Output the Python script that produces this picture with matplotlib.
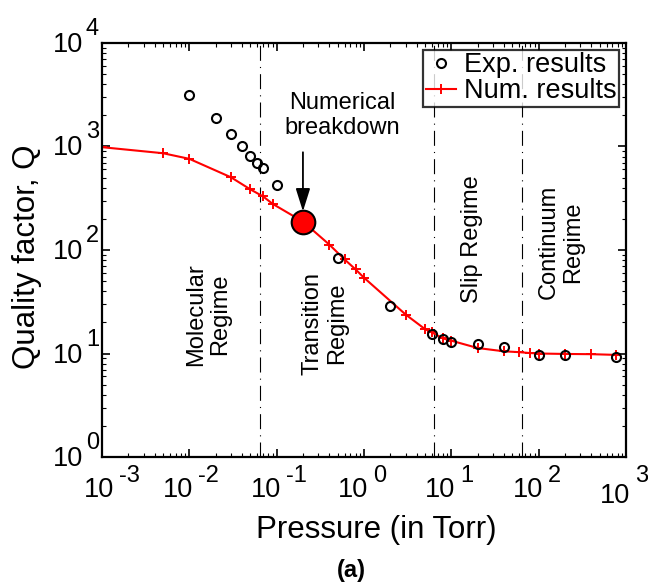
import matplotlib
matplotlib.use("Agg")
from matplotlib import pyplot as plt
from matplotlib.ticker import LogLocator, NullFormatter
from matplotlib.transforms import blended_transform_factory, offset_copy

plt.rcParams['font.family'] = ['Liberation Sans', 'DejaVu Sans']

# experimental points
exp_p = [0.01, 0.02, 0.03, 0.04, 0.05, 0.06, 0.07, 0.1, 0.5, 2, 6, 8, 10, 20, 40, 100, 200, 760]
exp_q = [3170, 1870, 1320, 1015, 810, 700, 625, 428, 84, 29, 15.4, 13.9, 12.9, 12.4, 11.6, 9.7, 9.6, 9.3]

# numerical results
num_p = [0.001, 0.005, 0.01, 0.03, 0.05, 0.07, 0.09, 0.2, 0.4, 0.6, 0.8, 1.0, 3, 5, 6, 8, 10, 20, 40, 60, 80, 100, 200, 400, 760]
num_q = [985, 861, 760, 504, 385, 329, 279, 188, 113, 81, 65, 54, 23.8, 17.2, 16, 14, 13.3, 11.3, 10.5, 10.3, 10.1, 10.0, 9.9, 9.85, 9.7]

breakdown_p = 0.2
breakdown_q = 188

regime_bounds = [0.064, 6.4, 64]

x_decades = [-3, -2, -1, 0, 1, 2, 3]
y_decades = [0, 1, 2, 3, 4]

fig = plt.figure(figsize=(6.48, 5.85), dpi=100)
ax = fig.add_axes([0.1574, 0.2188, 0.8086, 0.7077])

for b in regime_bounds:
    ax.axvline(b, color='black', lw=0.8, ls=(0, (13.5, 5.5, 1, 5.5)))

ax.plot(num_p, num_q, color='red', lw=1.5, marker='+', ms=6.5, mew=1.4, label='Num. results')
ax.plot(exp_p, exp_q, ls='none', marker='o', ms=6.5, mfc='none', mec='black', mew=1.5, label='Exp. results')
ax.plot([breakdown_p], [breakdown_q], ls='none', marker='o', ms=17, mfc='red', mec='black', mew=1.5)

ax.set_xscale('log')
ax.set_yscale('log')
ax.set_xlim(1e-3, 1e3)
ax.set_ylim(1, 1e4)

ax.set_xticks([10.0**k for k in x_decades])
ax.set_yticks([10.0**k for k in y_decades])
ax.xaxis.set_minor_locator(LogLocator(base=10, subs=range(2, 10), numticks=20))
ax.yaxis.set_minor_locator(LogLocator(base=10, subs=range(2, 10), numticks=20))
ax.xaxis.set_minor_formatter(NullFormatter())
ax.yaxis.set_minor_formatter(NullFormatter())
ax.tick_params(which='both', direction='in', top=True, right=True,
               labelbottom=False, labelleft=False)
ax.tick_params(which='major', length=6, width=1.2)
ax.tick_params(which='minor', length=3, width=0.8)
for s in ax.spines.values():
    s.set_linewidth(1.6)

# MATLAB style tick labels: "10" with a full size raised exponent
xtr = blended_transform_factory(ax.transData, ax.transAxes)
for k in x_decades:
    dx = 8 if k == x_decades[0] else 0
    dy = -6 if k == x_decades[-1] else 0
    ax.text(10.0**k, 0, '10', ha='right', va='baseline', fontsize=19.5,
            transform=offset_copy(xtr, fig=fig, x=4 + dx, y=-40 + dy, units='dots'))
    ax.text(10.0**k, 0, str(k), ha='left', va='baseline', fontsize=17,
            transform=offset_copy(xtr, fig=fig, x=9 + dx, y=-25, units='dots'))

ytr = blended_transform_factory(ax.transAxes, ax.transData)
for k in y_decades:
    ax.text(0, 10.0**k, '10', ha='right', va='baseline', fontsize=19.5,
            transform=offset_copy(ytr, fig=fig, x=-19, y=-9, units='dots'))
    ax.text(0, 10.0**k, str(k), ha='left', va='baseline', fontsize=17,
            transform=offset_copy(ytr, fig=fig, x=-16, y=8, units='dots'))

ax.set_xlabel('Pressure (in Torr)', fontsize=22.5, va='baseline')
ax.xaxis.set_label_coords(0.523, -0.196)
ax.set_ylabel('Quality factor, Q', fontsize=22.5, va='center')
ax.yaxis.set_label_coords(-0.143, 0.483)

handles, labels = ax.get_legend_handles_labels()
leg = ax.legend(handles[::-1], labels[::-1], loc='upper right', fontsize=19.5, frameon=True,
                fancybox=False, edgecolor='black', borderpad=0.1, labelspacing=0.0,
                handlelength=1.1, handletextpad=0.3, borderaxespad=0.25)
leg.get_frame().set_linewidth(1.6)

# arrow and label for the numerical breakdown point
ax.annotate('', xy=(breakdown_p, 236), xytext=(breakdown_p, 880),
            arrowprops=dict(arrowstyle='-|>,head_length=0.7,head_width=0.22', color='black',
                            lw=1.3, mutation_scale=20, shrinkA=0, shrinkB=0))
ax.text(0.56, 2000, 'Numerical\nbreakdown', ha='center', va='center', fontsize=17, linespacing=1.15)

ax.text(0.0164, 24, 'Molecular\nRegime', rotation=90, ha='center', va='center', fontsize=17, linespacing=1.15)
ax.text(0.36, 19.5, 'Transition\nRegime', rotation=90, ha='center', va='center', fontsize=17, linespacing=1.15)
ax.text(17.3, 128, 'Slip Regime', rotation=90, ha='center', va='center', fontsize=17)
ax.text(181, 120, 'Continuum\nRegime', rotation=90, ha='center', va='center', fontsize=17, linespacing=1.15)

fig.text(351 / 648, 0.024, '(a)', ha='center', va='center', fontsize=17, fontweight='bold')

fig.savefig('out.png', dpi=100)
